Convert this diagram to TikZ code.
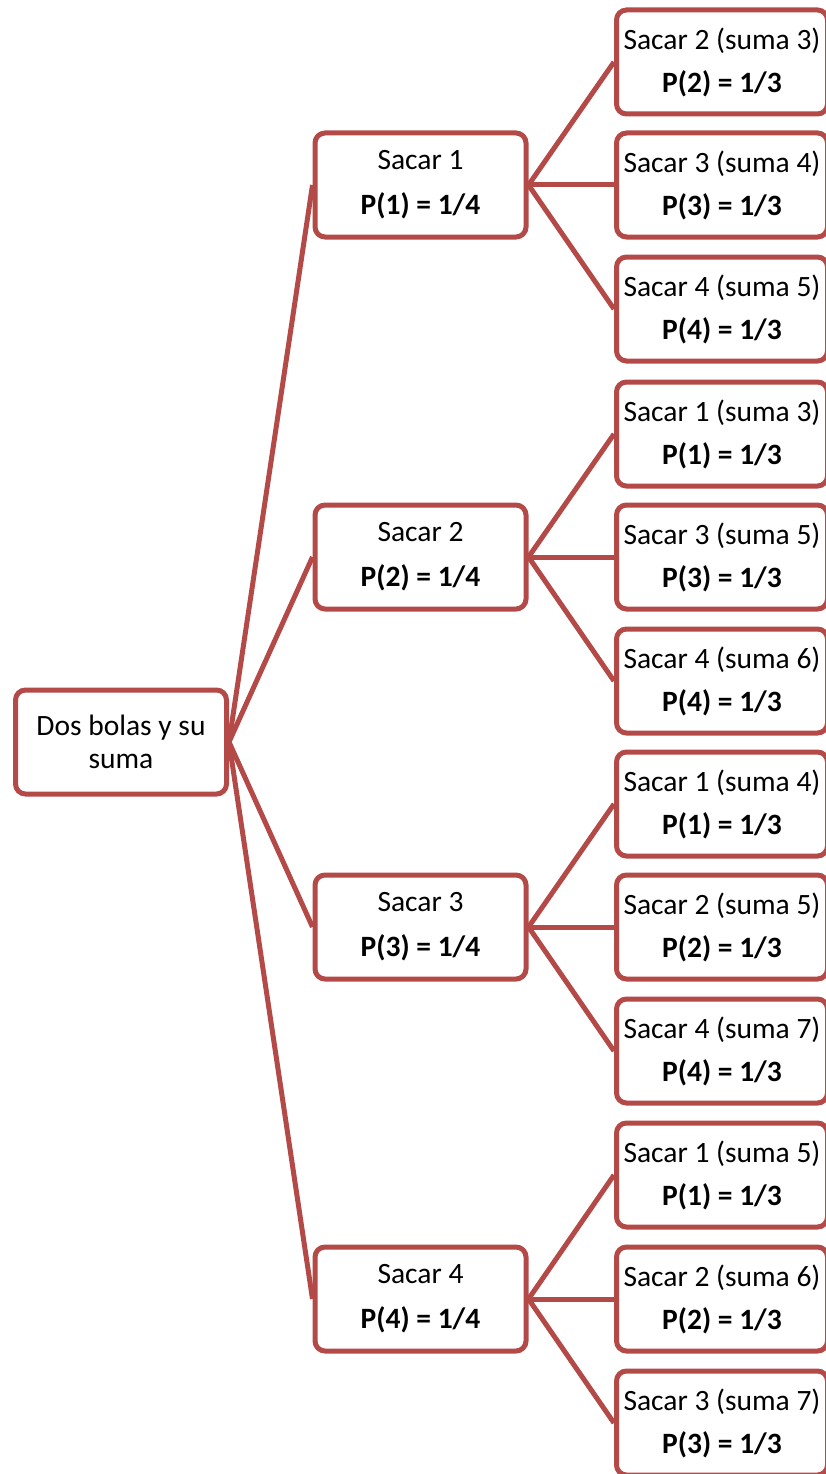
\documentclass[tikz,border=0pt]{standalone}
\usepackage{fontspec}
\setmainfont{Carlito}
\definecolor{rojo}{RGB}{180,74,72}

\begin{document}
\begin{tikzpicture}[x=1pt,y=-1pt,
	caja/.style={draw=rojo,line width=5pt,rounded corners=10pt,fill=white,
		minimum width=211pt,minimum height=104pt,inner sep=0pt,align=center,
		font=\fontsize{29.5}{33}\selectfont},
	rama/.style={draw=rojo,line width=5pt}]
	\useasboundingbox (0,0) rectangle (826,1474);
	% raiz
	\node[caja] (raiz) at (121,742){Dos bolas y su\\suma};
	% primera bola
	\node[caja] (s1) at (420.5,185){Sacar 1\\[12pt]\textbf{P(1) = 1/4}};
	\node[caja] (s2) at (420.5,557){Sacar 2\\[12pt]\textbf{P(2) = 1/4}};
	\node[caja] (s3) at (420.5,927){Sacar 3\\[12pt]\textbf{P(3) = 1/4}};
	\node[caja] (s4) at (420.5,1299){Sacar 4\\[12pt]\textbf{P(4) = 1/4}};
	% segunda bola
	\node[caja] (s12) at (722,62){Sacar 2 (suma 3)\\[10pt]\textbf{P(2) = 1/3}};
	\node[caja] (s13) at (722,185){Sacar 3 (suma 4)\\[10pt]\textbf{P(3) = 1/3}};
	\node[caja] (s14) at (722,309){Sacar 4 (suma 5)\\[10pt]\textbf{P(4) = 1/3}};
	\node[caja] (s21) at (722,434){Sacar 1 (suma 3)\\[10pt]\textbf{P(1) = 1/3}};
	\node[caja] (s23) at (722,557){Sacar 3 (suma 5)\\[10pt]\textbf{P(3) = 1/3}};
	\node[caja] (s24) at (722,681){Sacar 4 (suma 6)\\[10pt]\textbf{P(4) = 1/3}};
	\node[caja] (s31) at (722,804){Sacar 1 (suma 4)\\[10pt]\textbf{P(1) = 1/3}};
	\node[caja] (s32) at (722,927){Sacar 2 (suma 5)\\[10pt]\textbf{P(2) = 1/3}};
	\node[caja] (s34) at (722,1051){Sacar 4 (suma 7)\\[10pt]\textbf{P(4) = 1/3}};
	\node[caja] (s41) at (722,1175){Sacar 1 (suma 5)\\[10pt]\textbf{P(1) = 1/3}};
	\node[caja] (s42) at (722,1299){Sacar 2 (suma 6)\\[10pt]\textbf{P(2) = 1/3}};
	\node[caja] (s43) at (722,1423){Sacar 3 (suma 7)\\[10pt]\textbf{P(3) = 1/3}};
	% ramas
	\draw[rama] (raiz.east)--(s1.west);
	\draw[rama] (raiz.east)--(s2.west);
	\draw[rama] (raiz.east)--(s3.west);
	\draw[rama] (raiz.east)--(s4.west);
	\draw[rama] (s1.east)--(s12.west);
	\draw[rama] (s1.east)--(s13.west);
	\draw[rama] (s1.east)--(s14.west);
	\draw[rama] (s2.east)--(s21.west);
	\draw[rama] (s2.east)--(s23.west);
	\draw[rama] (s2.east)--(s24.west);
	\draw[rama] (s3.east)--(s31.west);
	\draw[rama] (s3.east)--(s32.west);
	\draw[rama] (s3.east)--(s34.west);
	\draw[rama] (s4.east)--(s41.west);
	\draw[rama] (s4.east)--(s42.west);
	\draw[rama] (s4.east)--(s43.west);
\end{tikzpicture}
\end{document}
